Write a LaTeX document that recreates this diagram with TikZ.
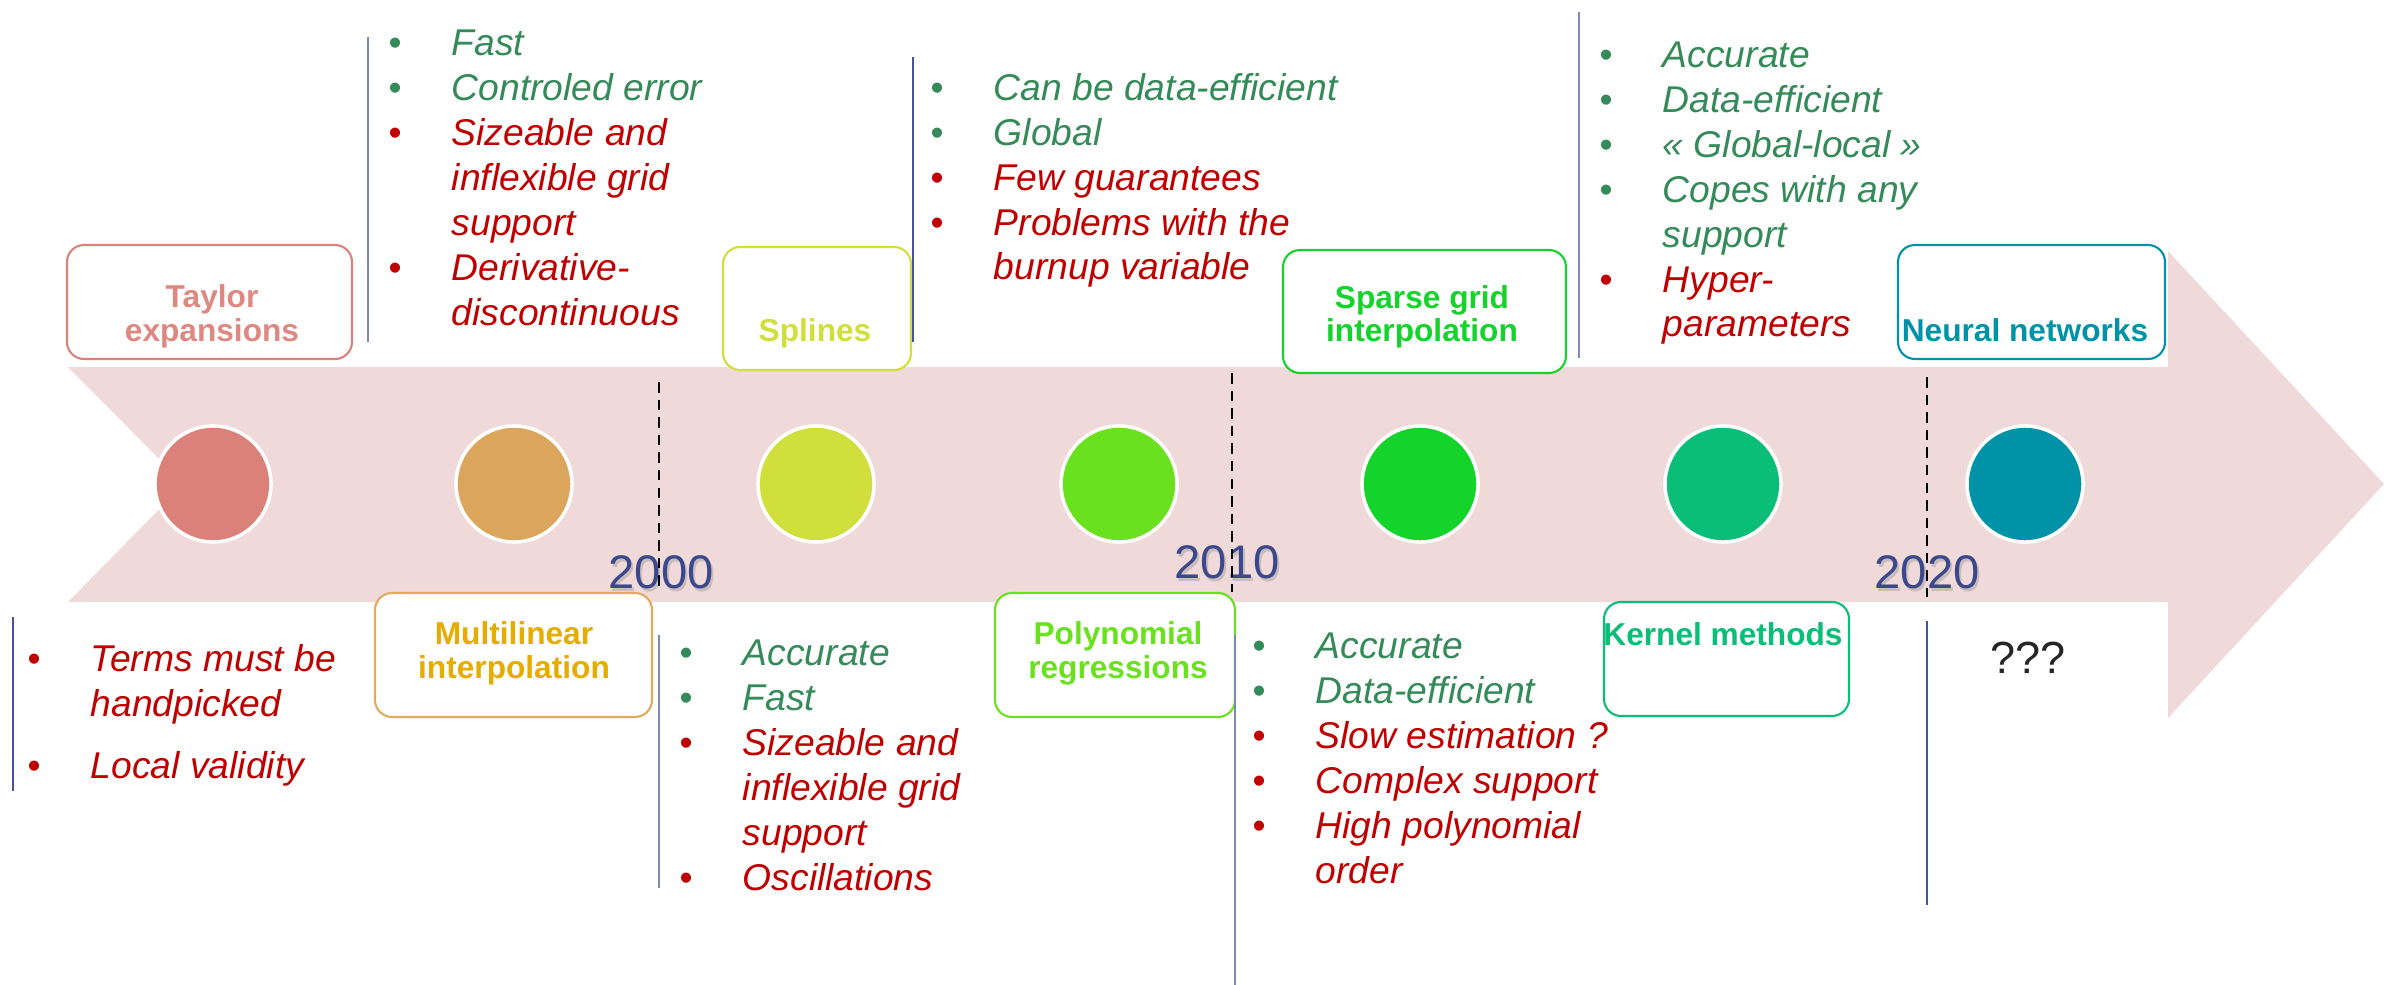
\documentclass[tikz,border=0pt]{standalone}
\usepackage{fontspec}
\setmainfont{Liberation Sans}

\definecolor{bandc}{RGB}{240,217,217}
\definecolor{goodc}{RGB}{52,138,88}
\definecolor{badc}{RGB}{192,0,0}
\definecolor{yearc}{RGB}{59,73,140}
\definecolor{rulec}{RGB}{128,136,180}
\definecolor{ruled}{RGB}{70,82,158}
\definecolor{c1}{RGB}{218,130,122}
\definecolor{c2}{RGB}{219,166,91}
\definecolor{c3}{RGB}{208,223,60}
\definecolor{c4}{RGB}{106,225,31}
\definecolor{c5}{RGB}{20,211,43}
\definecolor{c6}{RGB}{11,190,120}
\definecolor{c7}{RGB}{0,147,168}
\definecolor{t1}{RGB}{222,136,130}
\definecolor{t2}{RGB}{230,172,0}
\definecolor{b2}{RGB}{224,170,95}

\newcommand{\blt}{\makebox[0.63cm][l]{\upshape\textbullet}}
\newcommand{\nbl}{\hspace*{0.63cm}}
\newcommand{\gd}[1]{\textcolor{goodc}{#1}}
\newcommand{\bd}[1]{\textcolor{badc}{#1}}

\begin{document}
\begin{tikzpicture}[x=0.01cm, y=-0.01cm,
    disc/.style={circle, draw=white, line width=1pt, minimum size=1.16cm, inner sep=0pt},
    era/.style={fill=white, line width=0.6pt, rounded corners=0.17cm},
    lbl/.style={font=\bfseries\fontsize{9pt}{9.4pt}\selectfont, align=center, anchor=base, inner sep=0pt},
    notes/.style={font=\itshape\fontsize{10.6pt}{12.75pt}\selectfont, align=left, anchor=base west, inner sep=0pt},
    year/.style={font=\fontsize{13.4pt}{14pt}\selectfont, text=yearc, anchor=base west, inner sep=0pt},
    tick/.style={dash pattern=on 3pt off 2pt, line width=0.5pt},
    vline/.style={line width=0.6pt, draw=rulec}]
    \useasboundingbox (0,0) rectangle (2384,985);

    % Band
    \fill[bandc] (68,367) -- (2168,367) -- (2168,251) -- (2384,484)
        -- (2168,718) -- (2168,602) -- (68,602) -- (184,484) -- cycle;

    % Circles
    \foreach \i/\x in {1/213,2/514,3/816,4/1119,5/1420,6/1723,7/2025}
        \node[disc, fill=c\i] (c\i) at (\x,484) {};

    % Years (multi-line nodes sit on their last baseline)
    \node[year, text=black!40, opacity=0.45] (s2000) at (610,591) {2000};
    \node[year] (y2000) at (608,588) {2000};
    \node[year, text=black!40, opacity=0.45] (s2010) at (1176,581) {2010};
    \node[year] (y2010) at (1174,578) {2010};
    \node[year, text=black!40, opacity=0.45] (s2020) at (1876,591) {2020};
    \node[year] (y2020) at (1874,588) {2020};

    \draw[tick] (659,382) -- (659,590);
    \draw[tick] (1232,373) -- (1232,592);
    \draw[tick] (1927,377) -- (1927,597);

    % Boxes
    \draw[era, draw=c1] (67,245) rectangle (352,359);
    \draw[era, draw=b2] (375,593) rectangle (652,717);
    \draw[era, draw=c3] (723,247) rectangle (911,370);
    \draw[era, draw=c4] (995,593) rectangle (1235,717);
    \draw[era, draw=c5] (1283,250) rectangle (1566,373);
    \draw[era, draw=c6] (1604,602) rectangle (1849,716);
    \draw[era, draw=c7] (1898,245) rectangle (2165,359);

    \node[lbl, text=t1] (taylor) at (212,341) {Taylor\\expansions};
    \node[lbl, text=t2] (multi) at (514,678) {Multilinear\\interpolation};
    \node[lbl, text=c3] (splines) at (815,342) {Splines};
    \node[lbl, text=c4] (poly) at (1118,678) {Polynomial\\regressions};
    \node[lbl, text=c5] (sparse) at (1422,342) {Sparse grid\\interpolation};
    \node[lbl, text=c6] (kernel) at (1723,645) {Kernel methods};
    \node[lbl, text=c7] (neural) at (2025,341) {Neural networks};

    % Pros and cons
    \node[notes] (taylorN) at (27,778) {\bd{\blt Terms must be}\\
        \bd{\nbl handpicked}\\[4.8pt]
        \bd{\blt Local validity}};
    \node[notes] (multiN) at (388,325) {\gd{\blt Fast}\\
        \gd{\blt Controled error}\\
        \bd{\blt Sizeable and}\\
        \bd{\nbl inflexible grid}\\
        \bd{\nbl support}\\
        \bd{\blt Derivative-}\\
        \bd{\nbl discontinuous}};
    \node[notes] (splinesN) at (679,890) {\gd{\blt Accurate}\\
        \gd{\blt Fast}\\
        \bd{\blt Sizeable and}\\
        \bd{\nbl inflexible grid}\\
        \bd{\nbl support}\\
        \bd{\blt Oscillations}};
    \node[notes] (polyN) at (930,280) {\gd{\blt Can be data-efficient}\\
        \gd{\blt Global}\\
        \bd{\blt Few guarantees}\\
        \bd{\blt Problems with the}\\
        \bd{\nbl burnup variable}};
    \node[notes] (sparseN) at (1252,883) {\gd{\blt Accurate}\\
        \gd{\blt Data-efficient}\\
        \bd{\blt Slow estimation ?}\\
        \bd{\blt Complex support}\\
        \bd{\blt High polynomial}\\
        \bd{\nbl order}};
    \node[notes] (kernelN) at (1599,337) {\gd{\blt Accurate}\\
        \gd{\blt Data-efficient}\\
        \gd{\blt « Global-local »}\\
        \gd{\blt Copes with any}\\
        \gd{\nbl support}\\
        \bd{\blt Hyper-}\\
        \bd{\nbl parameters}};
    \node[font=\fontsize{12.8pt}{14pt}\selectfont, text=black!85, anchor=base west,
        inner sep=0pt] (neuralN) at (1990,673) {???};

    \draw[vline, draw=ruled] (13,617) -- (13,791);
    \draw[vline] (368,37) -- (368,342);
    \draw[vline] (659,635) -- (659,888);
    \draw[vline, draw=ruled] (913,57) -- (913,342);
    \draw[vline] (1235,635) -- (1235,985);
    \draw[vline] (1579,12) -- (1579,358);
    \draw[vline, draw=ruled] (1927,621) -- (1927,905);
\end{tikzpicture}
\end{document}
